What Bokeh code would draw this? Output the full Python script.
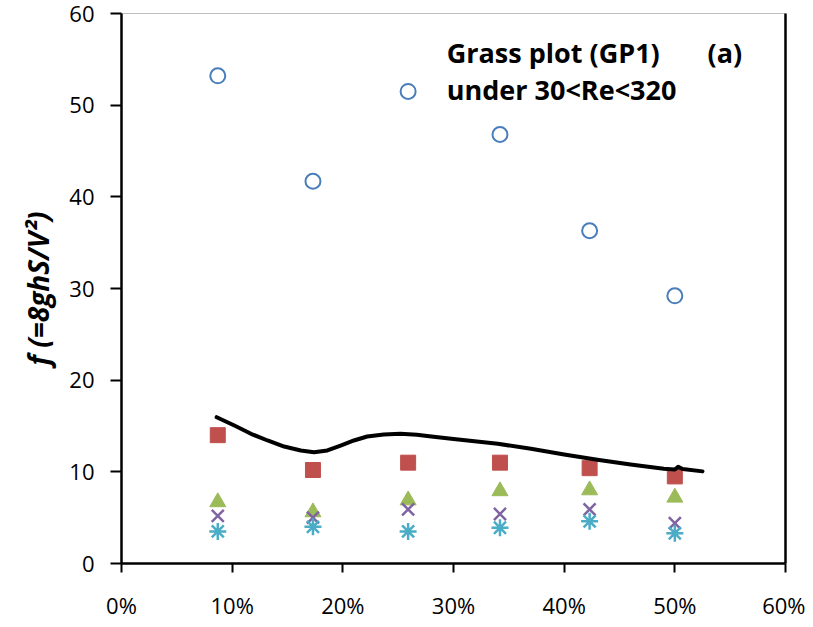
from bokeh.plotting import figure
from bokeh.models import LinearAxis, Label, NumeralTickFormatter, FixedTicker, Range1d
from bokeh.embed import file_html
from bokeh.resources import INLINE

# ---- data ----
x_pos = [0.087, 0.173, 0.259, 0.342, 0.423, 0.500]
f_circle = [53.2, 41.7, 51.5, 46.8, 36.3, 29.2]
f_square = [14.0, 10.2, 11.0, 11.0, 10.4, 9.5]
f_triangle = [6.7, 5.6, 6.9, 7.9, 8.0, 7.2]
f_cross = [5.2, 5.0, 5.9, 5.4, 5.9, 4.4]
f_star = [3.5, 4.0, 3.5, 3.9, 4.6, 3.3]

curve_x = [0.086, 0.102, 0.117, 0.132, 0.147, 0.162, 0.174, 0.186, 0.198, 0.210,
           0.222, 0.237, 0.252, 0.267, 0.280, 0.298, 0.340, 0.370, 0.400, 0.430,
           0.460, 0.490, 0.500, 0.503, 0.507, 0.525]
curve_y = [15.96, 15.05, 14.15, 13.42, 12.76, 12.33, 12.14, 12.33, 12.87, 13.42,
           13.85, 14.07, 14.15, 14.04, 13.85, 13.60, 13.06, 12.51, 11.89, 11.31,
           10.80, 10.33, 10.25, 10.55, 10.30, 10.05]

x_ticks = [0.0, 0.1, 0.2, 0.3, 0.4, 0.5, 0.6]
y_ticks = [0, 10, 20, 30, 40, 50, 60]

title_line1 = "Grass plot (GP1)"
title_line2 = "under 30<Re<320"
panel_tag = "(a)"
y_label = "f (=8ghS/V\u00b2)"

FONT = "Open Sans"

p = figure(width=805, height=622, output_backend="svg", toolbar_location=None,
           x_range=Range1d(0, 0.6), y_range=Range1d(0, 60),
           min_border_left=121, min_border_right=20, min_border_top=13,
           min_border_bottom=59)
p.background_fill_color = "white"
p.border_fill_color = "white"
p.outline_line_color = "#c0c0c0"
p.outline_line_width = 1
p.xgrid.visible = False
p.ygrid.visible = False

# x axis
xa = p.xaxis[0]
xa.ticker = FixedTicker(ticks=x_ticks)
xa.formatter = NumeralTickFormatter(format="0%")
xa.axis_line_width = 2.5
xa.axis_line_color = "black"
xa.major_tick_line_width = 2
xa.major_tick_line_color = "black"
xa.major_tick_out = 9
xa.major_tick_in = 0
xa.minor_tick_line_color = None
xa.major_label_text_font = FONT
xa.major_label_text_font_size = "22px"
xa.major_label_text_color = "black"
xa.major_label_standoff = 17

# y axis
ya = p.yaxis[0]
ya.ticker = FixedTicker(ticks=y_ticks)
ya.axis_line_width = 2.5
ya.axis_line_color = "black"
ya.major_tick_line_width = 2
ya.major_tick_line_color = "black"
ya.major_tick_out = 11
ya.major_tick_in = 0
ya.minor_tick_line_color = None
ya.major_label_text_font = FONT
ya.major_label_text_font_size = "22px"
ya.major_label_text_color = "black"
ya.major_label_standoff = 16
ya.axis_label = y_label
ya.axis_label_text_font = FONT
ya.axis_label_text_font_size = "28px"
ya.axis_label_text_font_style = "bold italic"
ya.axis_label_text_color = "black"
ya.axis_label_standoff = 9

# right-hand frame line
ra = LinearAxis(ticker=FixedTicker(ticks=[]), axis_line_width=2.5, axis_line_color="black",
                major_tick_out=0, major_tick_in=0, major_label_standoff=0,
                minor_tick_line_color=None, major_label_text_font_size="0px")
p.add_layout(ra, "right")

# markers
p.scatter(x_pos, f_circle, marker="circle", size=15, fill_alpha=0,
          line_color="#4a7ebb", line_width=2)
p.scatter(x_pos, f_square, marker="square", size=15, fill_color="#c0504d",
          line_color="#c0504d", line_width=1)
p.scatter(x_pos, f_triangle, marker="triangle", size=16, fill_color="#9bbb59",
          line_color="#9bbb59", line_width=1)
p.scatter(x_pos, f_cross, marker="x", size=17, line_color="#8064a2", line_width=2.5)
p.scatter(x_pos, f_star, marker="asterisk", size=17, line_color="#4bacc6", line_width=2.5)

# fitted curve
p.line(curve_x, curve_y, line_color="black", line_width=4, line_join="round",
       line_cap="round")

# texts
for txt, xx, yy in [(title_line1, 0.2939, 55.75), (title_line2, 0.2939, 51.7),
                    (panel_tag, 0.5296, 55.75)]:
    p.add_layout(Label(x=xx, y=yy, text=txt, text_font=FONT, text_font_size="27px",
                       text_font_style="bold", text_color="black",
                       text_align="left", text_baseline="alphabetic"))

open("out.html", "w").write(file_html(p, INLINE))
